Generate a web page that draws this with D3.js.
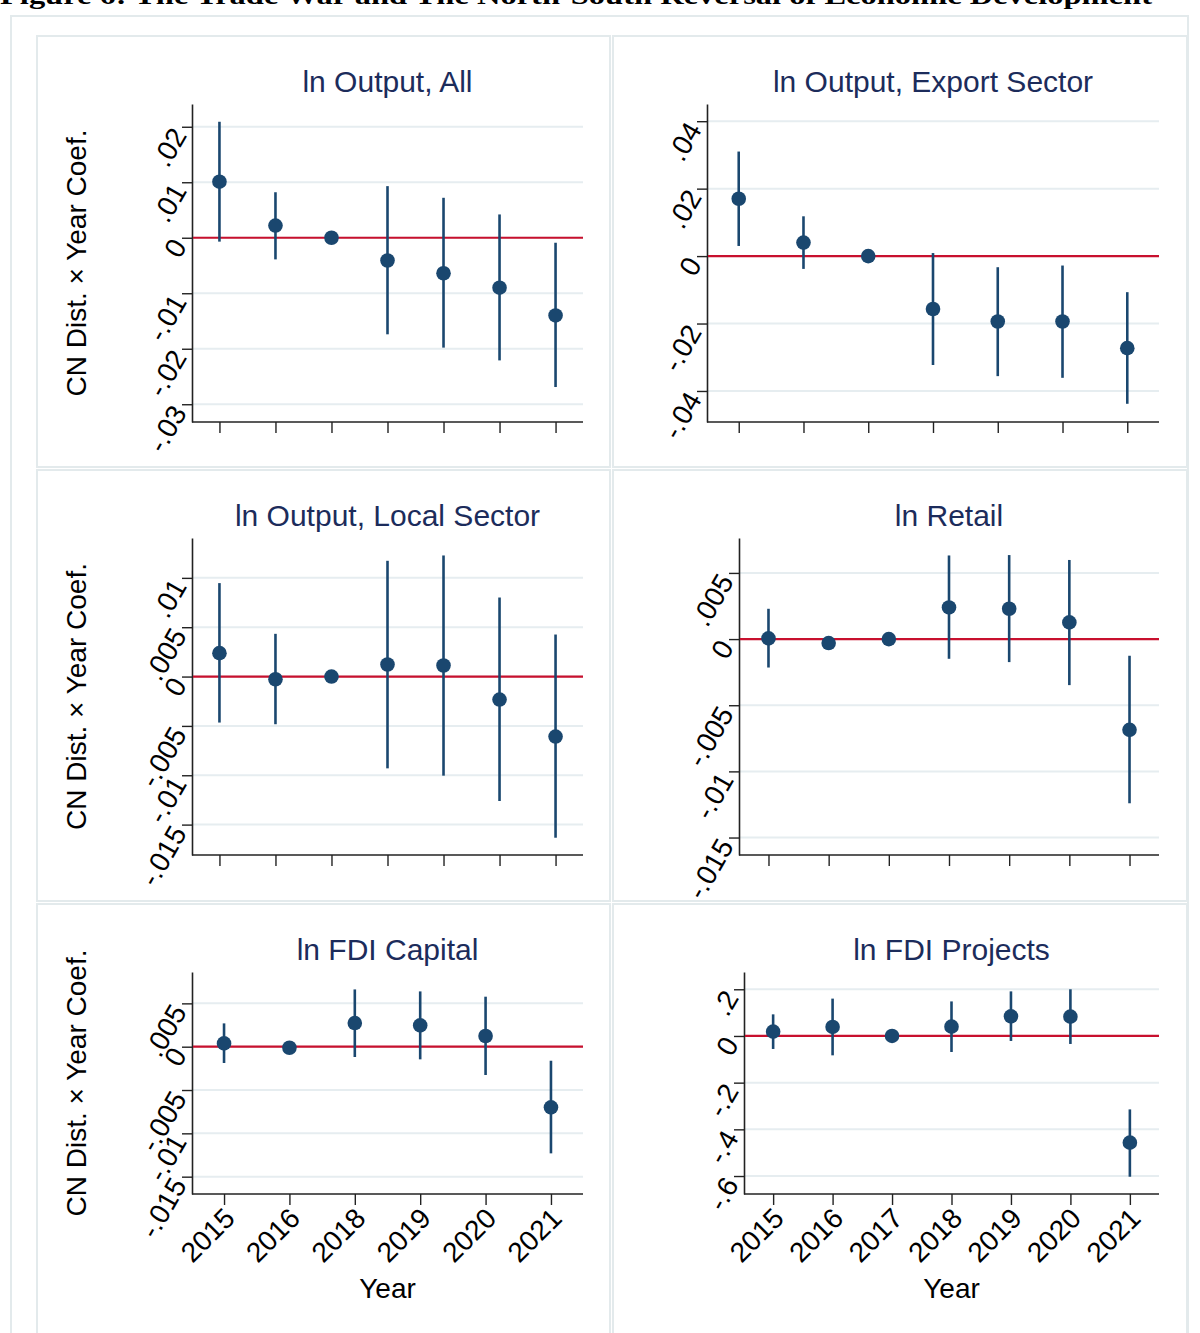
<!DOCTYPE html>
<html>
<head>
<meta charset="utf-8">
<script src="https://cdn.jsdelivr.net/npm/d3@7"></script>
<style>
  body { margin: 0; background: #fff; }
  svg { display: block; font-family: "Liberation Sans", Arial, sans-serif; }
</style>
</head>
<body>
<div id="chart"></div>
<script>
// years on the x axis
const years = ["2015", "2016", "2017", "2018", "2019", "2020", "2021"];
const yearsCapital = ["2015", "2016", "2018", "2019", "2020", "2021"];

// ln Output, All
const allCoef = [0.0101, 0.0022, 0, -0.0041, -0.0064, -0.0090, -0.0140];
const allLow  = [-0.0007, -0.0039, null, -0.0174, -0.0198, -0.0221, -0.0269];
const allHigh = [0.0209, 0.0082, null, 0.0093, 0.0072, 0.0042, -0.0009];

// ln Output, Export Sector
const exportCoef = [0.0170, 0.0040, 0, -0.0157, -0.0194, -0.0194, -0.0273];
const exportLow  = [0.0030, -0.0038, null, -0.0323, -0.0356, -0.0361, -0.0438];
const exportHigh = [0.0310, 0.0118, null, 0.0009, -0.0033, -0.0028, -0.0107];

// ln Output, Local Sector
const localCoef = [0.00237, -0.00027, 0, 0.00122, 0.00112, -0.00233, -0.00608];
const localLow  = [-0.00466, -0.00483, null, -0.00930, -0.01004, -0.01261, -0.01633];
const localHigh = [0.00947, 0.00433, null, 0.01173, 0.01227, 0.00801, 0.00426];

// ln Retail
const retailCoef = [0.00005, -0.0003, 0, 0.00239, 0.00229, 0.00126, -0.00686];
const retailLow  = [-0.00215, -0.0005, null, -0.00149, -0.00174, -0.00348, -0.01241];
const retailHigh = [0.00229, -0.0001, null, 0.00632, 0.00635, 0.00598, -0.00126];

// ln FDI Capital
const capitalCoef = [0.00038, -0.00012, 0.00273, 0.00246, 0.00123, -0.0070];
const capitalLow  = [-0.00188, null, -0.00119, -0.00146, -0.00327, -0.01231];
const capitalHigh = [0.00269, null, 0.00661, 0.00638, 0.00577, -0.00162];

// ln FDI Projects
const projectsCoef = [0.0184, 0.0386, 0, 0.0399, 0.084, 0.0827, -0.457];
const projectsLow  = [-0.0557, -0.083, null, -0.0686, -0.0214, -0.0343, -0.603];
const projectsHigh = [0.0926, 0.160, null, 0.148, 0.191, 0.200, -0.3146];

// y ticks and labels
const allTicks = [-0.03, -0.02, -0.01, 0, 0.01, 0.02];
const allTickLabels = ["-.03", "-.02", "-.01", "0", ".01", ".02"];
const exportTicks = [-0.04, -0.02, 0, 0.02, 0.04];
const exportTickLabels = ["-.04", "-.02", "0", ".02", ".04"];
const localTicks = [-0.015, -0.01, -0.005, 0, 0.005, 0.01];
const localTickLabels = ["-.015", "-.01", "-.005", "0", ".005", ".01"];
const retailTicks = [-0.015, -0.01, -0.005, 0, 0.005];
const retailTickLabels = ["-.015", "-.01", "-.005", "0", ".005"];
const capitalTicks = [-0.015, -0.01, -0.005, 0, 0.005];
const capitalTickLabels = ["-.015", "-.01", "-.005", "0", ".005"];
const projectsTicks = [-0.6, -0.4, -0.2, 0, 0.2];
const projectsTickLabels = ["-.6", "-.4", "-.2", "0", ".2"];

const figTitle = "Figure 6: The Trade War and The North-South Reversal of Economic Development";
const yTitle = "CN Dist. \u00d7 Year Coef.";
const xTitle = "Year";

const width = 1200, height = 1333;
const navy = "#1a476f", red = "#c8102e", grid = "#e6edf0", frame = "#e3eaec";

const svg = d3.select("#chart").append("svg")
  .attr("width", width)
  .attr("height", height);

// figure caption, cropped at the top like the source
svg.append("text")
  .attr("x", 0).attr("y", 4)
  .attr("textLength", 1152).attr("lengthAdjust", "spacingAndGlyphs")
  .style("font-family", "'Liberation Serif', 'Times New Roman', serif")
  .style("font-weight", "bold").style("font-size", "26px")
  .text(figTitle);

// outer frame and panel frames
svg.append("rect").attr("x", 11).attr("y", 16).attr("width", 1177).attr("height", 1340)
  .attr("fill", "none").attr("stroke", frame).attr("stroke-width", 2);

const cols = [[37, 573], [613, 574]];
const rows = [[36, 431], [470, 431], [904, 440]];
rows.forEach(r => cols.forEach(c => {
  svg.append("rect").attr("x", c[0]).attr("y", r[0]).attr("width", c[1]).attr("height", r[1])
    .attr("fill", "#fff").attr("stroke", frame).attr("stroke-width", 2);
}));

const panels = [
  {title: "ln Output, All", cats: years, coef: allCoef, low: allLow, high: allHigh,
   ticks: allTicks, labels: allTickLabels, domain: [-0.0332, 0.0241],
   x0: 192, x1: 583, y0: 104, y1: 422, yTitle: true, xLabels: false},
  {title: "ln Output, Export Sector", cats: years, coef: exportCoef, low: exportLow, high: exportHigh,
   ticks: exportTicks, labels: exportTickLabels, domain: [-0.0492, 0.0451],
   x0: 707, x1: 1159, y0: 104, y1: 422, yTitle: false, xLabels: false},
  {title: "ln Output, Local Sector", cats: years, coef: localCoef, low: localLow, high: localHigh,
   ticks: localTicks, labels: localTickLabels, domain: [-0.01808, 0.01404],
   x0: 192, x1: 583, y0: 538, y1: 855, yTitle: true, xLabels: false},
  {title: "ln Retail", cats: years, coef: retailCoef, low: retailLow, high: retailHigh,
   ticks: retailTicks, labels: retailTickLabels, domain: [-0.01632, 0.00764],
   x0: 739, x1: 1159, y0: 538, y1: 855, yTitle: false, xLabels: false},
  {title: "ln FDI Capital", cats: yearsCapital, coef: capitalCoef, low: capitalLow, high: capitalHigh,
   ticks: capitalTicks, labels: capitalTickLabels, domain: [-0.0170, 0.00862],
   x0: 192, x1: 583, y0: 972, y1: 1194, yTitle: true, xLabels: true},
  {title: "ln FDI Projects", cats: years, coef: projectsCoef, low: projectsLow, high: projectsHigh,
   ticks: projectsTicks, labels: projectsTickLabels, domain: [-0.677, 0.274],
   x0: 744, x1: 1159, y0: 972, y1: 1194, yTitle: false, xLabels: true}
];

panels.forEach(p => {
  const g = svg.append("g");
  const x = d3.scalePoint().domain(p.cats).range([p.x0, p.x1]).padding(0.49);
  const y = d3.scaleLinear().domain(p.domain).range([p.y1, p.y0]);

  // grid lines
  g.selectAll(".grid").data(p.ticks).join("line")
    .attr("x1", p.x0).attr("x2", p.x1)
    .attr("y1", d => y(d)).attr("y2", d => y(d))
    .attr("stroke", grid).attr("stroke-width", 2);

  // y axis
  const yAxis = g.append("g")
    .attr("transform", `translate(${p.x0},0)`)
    .call(d3.axisLeft(y).tickValues(p.ticks).tickSize(10).tickSizeOuter(0)
      .tickFormat((d, i) => p.labels[i]));
  yAxis.select(".domain").attr("stroke", "#222").attr("stroke-width", 1.6);
  yAxis.selectAll(".tick line").attr("stroke", "#222").attr("stroke-width", 1.4);
  yAxis.selectAll(".tick text")
    .attr("x", null)
    .attr("transform", "translate(-13,3) rotate(-60)")
    .attr("dy", "0.35em")
    .attr("text-anchor", "end")
    .style("font-size", "28px").attr("fill", "#000");

  // x axis
  const xAxis = g.append("g")
    .attr("transform", `translate(0,${p.y1})`)
    .call(d3.axisBottom(x).tickSize(11).tickSizeOuter(0));
  xAxis.select(".domain").attr("stroke", "#222").attr("stroke-width", 1.6)
    .attr("d", `M${p.x0},0H${p.x1}`);
  xAxis.selectAll(".tick line").attr("stroke", "#222").attr("stroke-width", 1.4);
  if (p.xLabels) {
    xAxis.selectAll(".tick text")
      .attr("y", null).attr("dy", "0.35em")
      .attr("transform", "translate(5,19) rotate(-45)")
      .attr("text-anchor", "end")
      .style("font-size", "28px").attr("fill", "#000");
    g.append("text")
      .attr("x", (p.x0 + p.x1) / 2).attr("y", 1298)
      .attr("text-anchor", "middle")
      .style("font-size", "28px").attr("fill", "#000")
      .text(xTitle);
  } else {
    xAxis.selectAll(".tick text").remove();
  }

  // reference line at zero
  g.append("line")
    .attr("x1", p.x0 + 1).attr("x2", p.x1)
    .attr("y1", y(0)).attr("y2", y(0))
    .attr("stroke", red).attr("stroke-width", 2.2);

  const pts = p.cats.map((c, i) => ({cat: c, coef: p.coef[i], low: p.low[i], high: p.high[i]}));

  // confidence intervals
  g.selectAll(".ci").data(pts.filter(d => d.low !== null)).join("line")
    .attr("x1", d => x(d.cat)).attr("x2", d => x(d.cat))
    .attr("y1", d => y(d.low)).attr("y2", d => y(d.high))
    .attr("stroke", navy).attr("stroke-width", 2.6);

  // point estimates
  g.selectAll(".pt").data(pts).join("circle")
    .attr("cx", d => x(d.cat)).attr("cy", d => y(d.coef))
    .attr("r", 7.3).attr("fill", navy);

  // panel title
  g.append("text")
    .attr("x", (p.x0 + p.x1) / 2).attr("y", p.y0 - 12)
    .attr("text-anchor", "middle")
    .style("font-size", "30px").attr("fill", "#1c2c5b")
    .text(p.title);

  // y axis title
  if (p.yTitle) {
    g.append("text")
      .attr("transform", `translate(86,${(p.y0 + p.y1) / 2}) rotate(-90)`)
      .attr("text-anchor", "middle")
      .style("font-size", "28px").attr("fill", "#000")
      .text(yTitle);
  }
});
</script>
</body>
</html>
